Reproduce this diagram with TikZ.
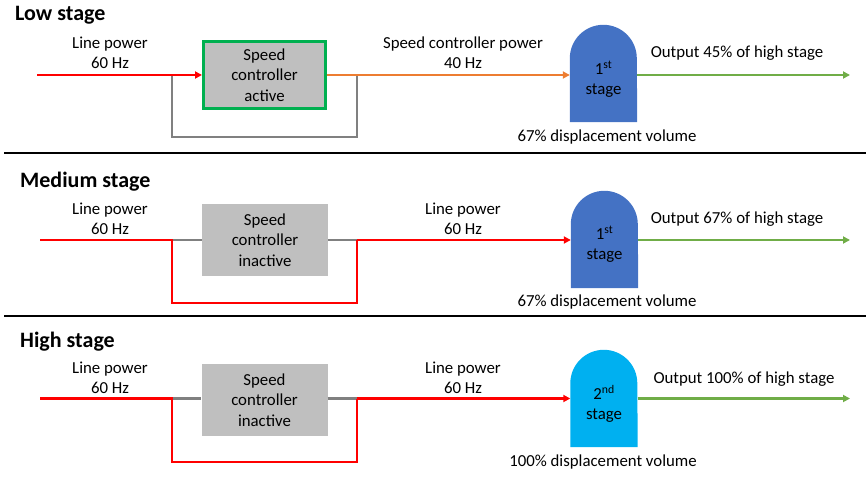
\documentclass[tikz,border=0pt]{standalone}
\usepackage{fontspec}
\setmainfont{Carlito}
\usetikzlibrary{arrows.meta,backgrounds}
\definecolor{cred}{HTML}{FF0000}
\definecolor{corange}{HTML}{ED7D31}
\definecolor{cgreenout}{HTML}{70AD47}
\definecolor{cgreenb}{HTML}{00B050}
\definecolor{cboxgray}{HTML}{BFBFBF}
\definecolor{cgrayline}{HTML}{808080}
\definecolor{cstageA}{HTML}{4472C4}
\definecolor{cstageB}{HTML}{00B0F0}
\tikzset{
  lbl/.style={font=\fontsize{16.8}{20}\selectfont, align=center, inner sep=0pt},
  ttl/.style={font=\bfseries\fontsize{22}{26}\selectfont, anchor=base west, inner sep=0pt},
  sbox/.style={fill=cboxgray, minimum width=126pt, minimum height=72pt, font=\fontsize{16.8}{20.5}\selectfont, align=center, inner sep=0pt},
  stg/.style={minimum width=67pt, minimum height=97pt, inner sep=0pt},
  stxt/.style={font=\fontsize{16.8}{20}\selectfont, align=center, inner sep=0pt},
  arr/.style={-{Triangle[length=7pt,width=7pt]}},
  rline/.style={draw=cred, line width=2.5pt},
  oline/.style={draw=corange, line width=2.5pt},
  gnline/.style={draw=cgreenout, line width=2.2pt},
  gline/.style={draw=cgrayline, line width=2.2pt},
  sepline/.style={draw=black, line width=2pt},
}
\begin{document}
\begin{tikzpicture}[x=1pt,y=-1pt]
\useasboundingbox (0,0) rectangle (866,476);

% ---------------- Section 1: Low stage ----------------
\node[ttl] (t1) at (15,21) {Low stage};
\node[sbox, draw=cgreenb, line width=3pt, minimum width=122pt, minimum height=67pt] (b1) at (264.5,75) {Speed\\controller\\active};
\node[stg] (s1) at (603.5,73.5) {};
\node[stxt] (s1t) at ([yshift=-6pt]s1.center) {1\textsuperscript{st}\\stage};
\begin{scope}[on background layer]
\fill[cstageA] (s1.south west) -- ([yshift=-33.5pt]s1.north west) arc[start angle=180,end angle=0,radius=33.5pt] -- (s1.south east) -- cycle;
\end{scope}
\coordinate (i1) at (37,75);
\coordinate (o1) at (850,75);
\coordinate (p1) at (172,75);
\coordinate (q1) at (357,75);
\coordinate (r1) at (172,137);
\draw[gline] (p1) -- (r1) -| (q1);
\draw[rline, arr] (i1) -- (b1.west);
\draw[oline, arr] (b1.east) -- (b1.east -| s1.west);
\draw[gnline, arr] (s1.east |- b1.east) -- (o1);
\node[lbl] (l1a) at (110,53) {Line power\\60 Hz};
\node[lbl] (l1b) at (463,53) {Speed controller power\\40 Hz};
\node[lbl] (l1c) at (737,53) {Output 45\% of high stage};
\node[lbl] (l1d) at (607,137) {67\% displacement volume};

\coordinate (sa1) at (4,152.5);
\coordinate (sb1) at (866,152.5);
\draw[sepline] (sa1) -- (sb1);

% ---------------- Section 2: Medium stage ----------------
\node[ttl] (t2) at (20,187) {Medium stage};
\node[sbox] (b2) at (265,240) {Speed\\controller\\inactive};
\node[stg] (s2) at (604.5,239.5) {};
\node[stxt] (s2t) at ([yshift=-5pt]s2.center) {1\textsuperscript{st}\\stage};
\begin{scope}[on background layer]
\fill[cstageA] (s2.south west) -- ([yshift=-33.5pt]s2.north west) arc[start angle=180,end angle=0,radius=33.5pt] -- (s2.south east) -- cycle;
\end{scope}
\coordinate (i2) at (40,240);
\coordinate (o2) at (850,240);
\coordinate (p2) at (172,240);
\coordinate (q2) at (357,240);
\coordinate (r2) at (172,303);
\draw[gline] (p2) -- (b2.west);
\draw[gline] (b2.east) -- (q2);
\draw[rline, line join=miter] (i2) -- (p2) -- (r2) -| (q2);
\draw[rline, arr] (q2) -- (q2 -| s2.west);
\draw[gnline, arr] (s2.east |- q2) -- (o2);
\node[lbl] (l2a) at (110,219) {Line power\\60 Hz};
\node[lbl] (l2b) at (463,219) {Line power\\60 Hz};
\node[lbl] (l2c) at (737,219) {Output 67\% of high stage};
\node[lbl] (l2d) at (607,302) {67\% displacement volume};

\coordinate (sa2) at (4,316);
\coordinate (sb2) at (866,316);
\draw[sepline] (sa2) -- (sb2);

% ---------------- Section 3: High stage ----------------
\node[ttl] (t3) at (20,347) {High stage};
\node[sbox] (b3) at (264.5,400) {Speed\\controller\\inactive};
\node[stg] (s3) at (604,398.5) {};
\node[stxt] (s3t) at ([yshift=-5pt]s3.center) {2\textsuperscript{nd}\\stage};
\begin{scope}[on background layer]
\fill[cstageB] (s3.south west) -- ([yshift=-33.5pt]s3.north west) arc[start angle=180,end angle=0,radius=33.5pt] -- (s3.south east) -- cycle;
\end{scope}
\coordinate (i3) at (40,398.5);
\coordinate (o3) at (850,398.5);
\coordinate (p3) at (172,398.5);
\coordinate (q3) at (357,398.5);
\coordinate (r3) at (172,462);
\draw[gline] (p3) -- (p3 -| b3.west);
\draw[gline] (q3 -| b3.east) -- (q3);
\draw[rline, line join=miter] (i3) -- (p3) -- (r3) -| (q3);
\draw[rline, arr] (q3) -- (q3 -| s3.west);
\draw[gnline, arr] (s3.east |- q3) -- (o3);
\node[lbl] (l3a) at (110,378) {Line power\\60 Hz};
\node[lbl] (l3b) at (463,378) {Line power\\60 Hz};
\node[lbl] (l3c) at (744,379) {Output 100\% of high stage};
\node[lbl] (l3d) at (603,462) {100\% displacement volume};
\end{tikzpicture}
\end{document}
